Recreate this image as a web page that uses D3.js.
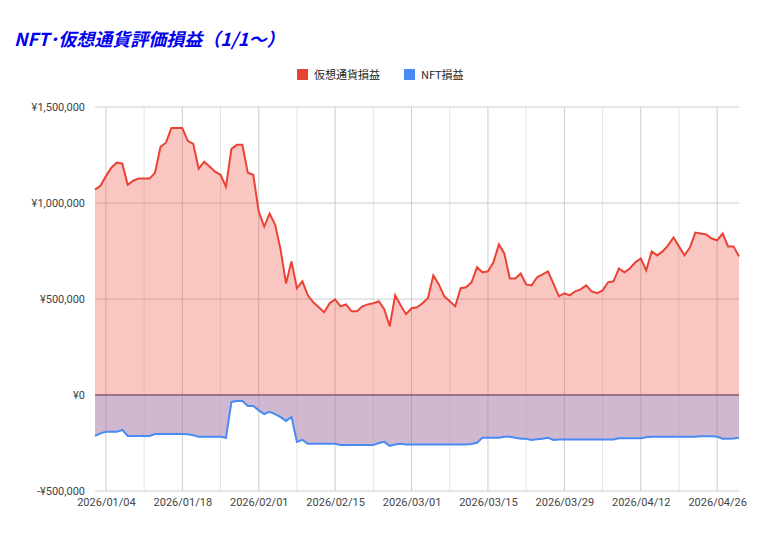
<!DOCTYPE html>
<html><head><meta charset="utf-8">
<script src="https://cdn.jsdelivr.net/npm/d3@7"></script>
<style>body{margin:0;background:#fff;font-family:Roboto,Arial,sans-serif}</style>
</head><body><svg id="c" width="766" height="539"></svg>
<script>
const startDate = "2026-01-02";
// daily values (yen, thousands) from 2026-01-02 to 2026-04-30
const cryptoPL = [1070,1090,1140,1184,1210,1205,1095,1116,1127,1127,1127,1158,1293,1314,1391,1391,1391,1324,1308,1179,1215,1190,1163,1147,1085,1282,1303,1303,1158,1147,
955,877,945,888,758,581,696,556,592,519,483,457,431,478,498,462,472,436,436,462,
472,478,488,447,358,519,467,421,452,457,478,504,623,576,514,488,462,556,561,587,
665,639,644,691,784,737,607,607,633,576,571,613,628,644,580,514,530,519,540,550,
571,540,530,545,587,592,659,639,659,691,711,649,748,727,748,779,820,774,727,768,
846,841,836,815,805,841,774,774,722];
const nftPL = [-213,-200,-192,-192,-192,-182,-213,-213,-213,-213,-213,-203,-203,-203,-203,-203,-203,-205,-210,-218,-218,-218,-218,-218,-223,-36,-31,-31,-57,-57,
-80,-99,-88,-100,-115,-135,-114,-244,-234,-254,-254,-254,-254,-254,-254,-260,-260,-260,-260,-260,
-260,-260,-250,-244,-265,-258,-254,-258,-258,-258,-258,-258,-258,-258,-258,-258,-258,-258,-258,-255,
-249,-223,-223,-223,-223,-218,-218,-223,-228,-228,-234,-230,-228,-223,-234,-232,-232,-232,-232,-232,
-232,-232,-232,-232,-232,-232,-225,-225,-225,-225,-225,-220,-218,-218,-218,-218,-218,-218,-218,-218,
-218,-215,-215,-215,-218,-228,-228,-226,-223];
const yTicks = [-500000,0,500000,1000000,1500000];
const xTickLabels = ["2026/01/04","2026/01/18","2026/02/01","2026/02/15","2026/03/01","2026/03/15","2026/03/29","2026/04/12","2026/04/26"];
const seriesNames = ["仮想通貨損益","NFT損益"];

const svg = d3.select("#c");
const parse = d3.timeParse("%Y-%m-%d"), parseT = d3.timeParse("%Y/%m/%d");
const d0 = parse(startDate);
const dates = cryptoPL.map((_,i)=>d3.timeDay.offset(d0,i));
const x = d3.scaleTime().domain([dates[0],dates[dates.length-1]]).range([95,739]);
const y = d3.scaleLinear().domain([-500000,1500000]).range([491,107]);

svg.append("text").attr("x",14).attr("y",46).attr("fill","#0000ee").attr("font-size",18)
 .attr("font-weight","bold").attr("font-style","italic").attr("font-family","'Noto Sans CJK JP',sans-serif")
 .text("NFT･仮想通貨評価損益（1/1～）");

// grid
const majors = xTickLabels.map(s=>parseT(s));
const minors = majors.map(d=>d3.timeDay.offset(d,7)).filter(d=>d<=dates[dates.length-1]);
svg.append("g").selectAll("line").data(minors).join("line")
 .attr("x1",d=>x(d)).attr("x2",d=>x(d)).attr("y1",107).attr("y2",491).attr("stroke","#e6e6e6");
svg.append("g").selectAll("line").data(majors).join("line")
 .attr("x1",d=>x(d)).attr("x2",d=>x(d)).attr("y1",107).attr("y2",491).attr("stroke","#cccccc");
svg.append("g").selectAll("line").data(yTicks).join("line")
 .attr("x1",95).attr("x2",739).attr("y1",d=>y(d)).attr("y2",d=>y(d)).attr("stroke","#cccccc");

const c = cryptoPL.map((v,i)=>({d:dates[i],v:v*1000}));
const n = nftPL.map((v,i)=>({d:dates[i],v:v*1000}));
svg.append("path").datum(c).attr("fill","#ea4335").attr("fill-opacity",0.3)
 .attr("d",d3.area().x(d=>x(d.d)).y0(y(0)).y1(d=>y(d.v)));
svg.append("path").datum(n).attr("fill","#a97dab").attr("fill-opacity",0.55)
 .attr("d",d3.area().x(d=>x(d.d)).y0(y(0)).y1(d=>y(d.v)));
svg.append("line").attr("x1",95).attr("x2",739).attr("y1",y(0)).attr("y2",y(0)).attr("stroke","#5a3a4a");
svg.append("path").datum(c).attr("fill","none").attr("stroke","#ea4335").attr("stroke-width",2)
 .attr("d",d3.line().x(d=>x(d.d)).y(d=>y(d.v)));
svg.append("path").datum(n).attr("fill","none").attr("stroke","#4a8af4").attr("stroke-width",2)
 .attr("d",d3.line().x(d=>x(d.d)).y(d=>y(d.v)));

// axes
const fmt = v => (v<0?"-":"")+"¥"+d3.format(",")(Math.abs(v));
const ya = svg.append("g").attr("transform","translate(88,0)")
 .call(d3.axisLeft(y).tickValues(yTicks).tickFormat(fmt).tickSize(0));
ya.select(".domain").remove();
ya.selectAll("text").attr("font-size",11).attr("fill","#444").attr("font-family","Roboto,Arial,sans-serif");
const xa = svg.append("g").attr("transform","translate(0,495)")
 .call(d3.axisBottom(x).tickValues(majors).tickFormat(d3.timeFormat("%Y/%m/%d")).tickSize(0));
xa.select(".domain").remove();
xa.selectAll("text").attr("font-size",11).attr("fill","#444").attr("font-family","Roboto,Arial,sans-serif");

// legend
const leg = [{n:seriesNames[0],c:"#ea4335",x:297},{n:seriesNames[1],c:"#4a8af4",x:404}];
const lg = svg.append("g").selectAll("g").data(leg).join("g").attr("transform",d=>`translate(${d.x},69)`);
lg.append("rect").attr("width",11).attr("height",11).attr("fill",d=>d.c);
lg.append("text").attr("x",17).attr("y",10).attr("font-size",11).attr("fill","#222")
 .attr("font-family","'Noto Sans CJK JP',sans-serif").text(d=>d.n);
</script></body></html>
